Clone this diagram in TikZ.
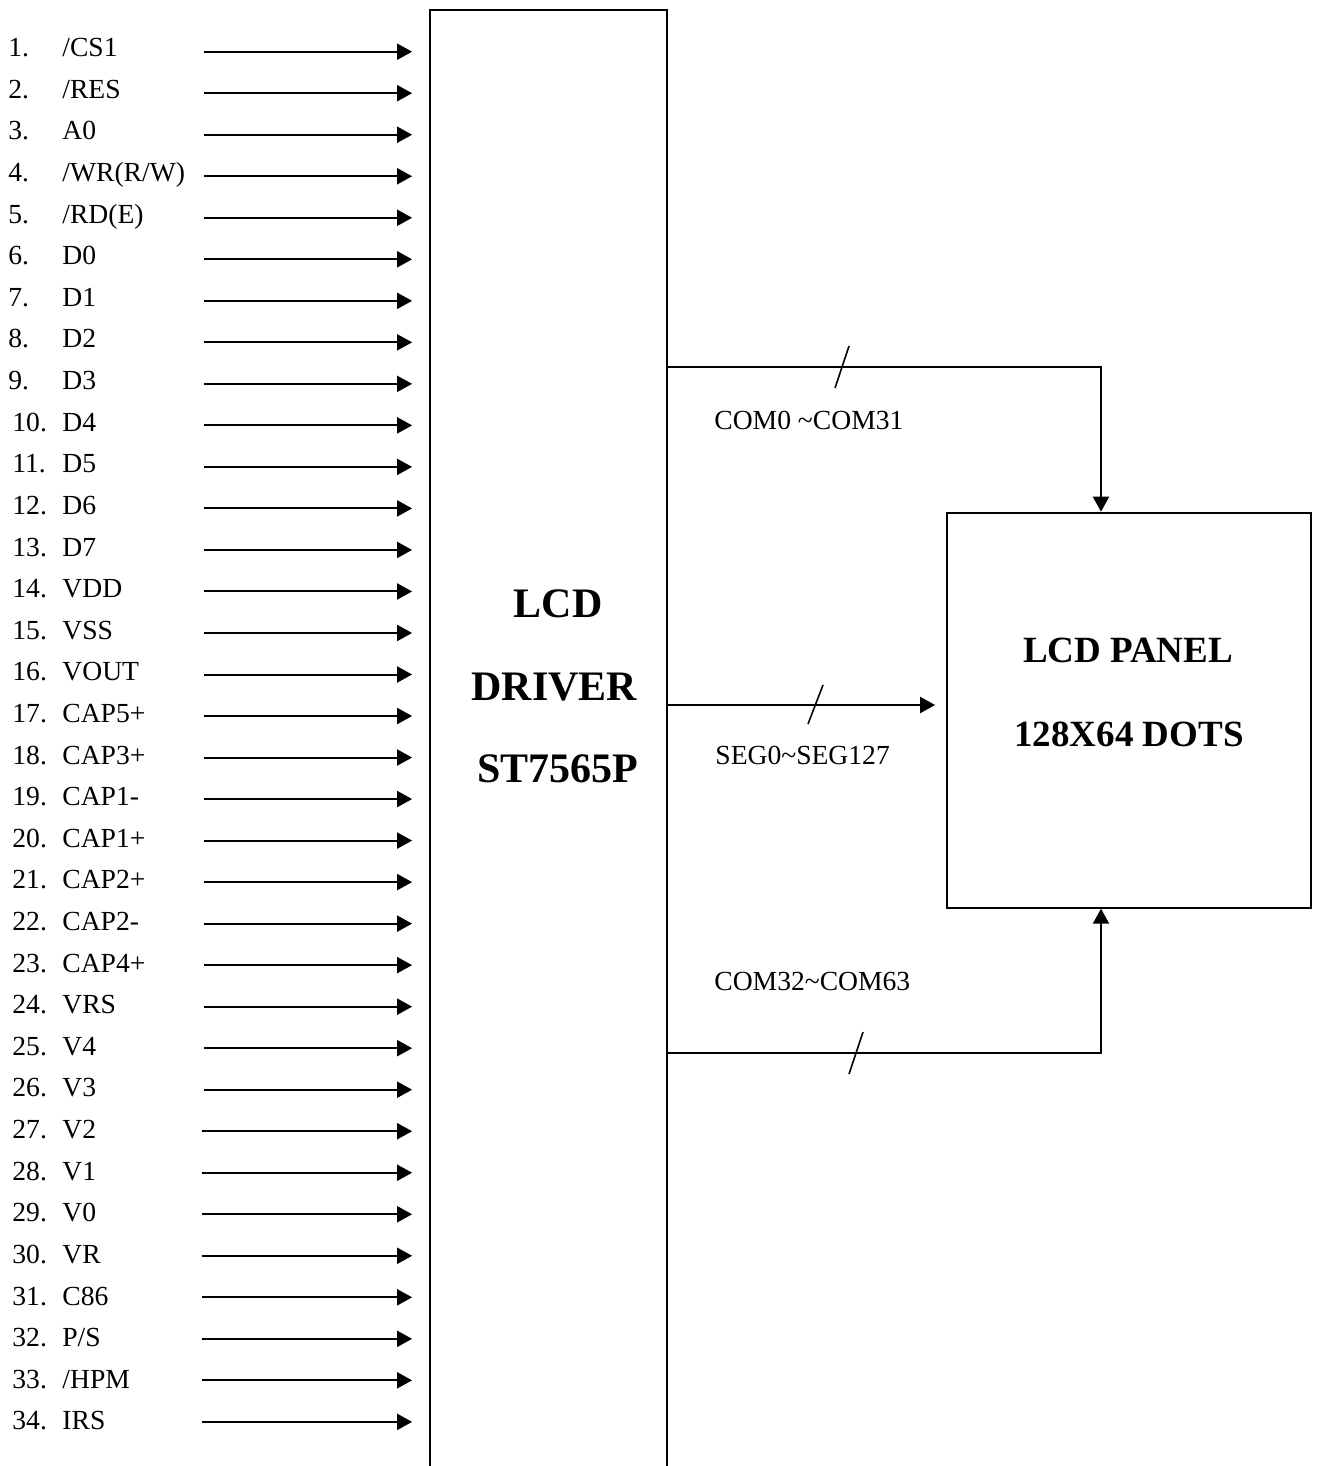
\documentclass[tikz,border=0pt]{standalone}
\usepackage{fontspec}
\setmainfont{Liberation Serif}
\usetikzlibrary{arrows.meta,calc}
\begin{document}
\begin{tikzpicture}[x=0.5pt,y=-0.5pt,
  ln/.style={line width=1pt},
  slash/.style={line width=0.8pt},
  arr/.style={line width=1pt,-{Triangle[length=7.5pt,width=8pt]}},
  txt/.style={anchor=base west,inner sep=0pt,font=\fontsize{13.8pt}{16pt}\selectfont},
  bigdrv/.style={anchor=base,inner sep=0pt,font=\fontsize{21pt}{24pt}\selectfont\bfseries},
  bigpan/.style={anchor=base,inner sep=0pt,font=\fontsize{18.5pt}{22pt}\selectfont\bfseries}]
\useasboundingbox (0,0) rectangle (1320,1466);
\begin{scope}
\clip (0,0) rectangle (1320,1466);
\node[draw,ln,minimum width=118.5pt,minimum height=750pt,inner sep=0pt,anchor=north] (drv) at (548,9) {};
\end{scope}
\node[draw,ln,minimum width=182.15pt,minimum height=197.5pt,inner sep=0pt] (pan) at (1128.85,710.2) {};

\node[bigdrv] (t1) at (558,617) {LCD};
\node[bigdrv] (t2) at (554.5,700) {DRIVER};
\node[bigdrv] (t3) at (558,782) {ST7565P};
\node[bigpan] (t4) at (1128,662.7) {LCD PANEL};
\node[bigpan] (t5) at (1129,746) {128X64 DOTS};

\foreach \nm [count=\i] in {{/CS1},{/RES},{A0},{/WR(R/W)},{/RD(E)},{D0},{D1},{D2},{D3},{D4},{D5},{D6},{D7},{VDD},{VSS},{VOUT},{CAP5+},{CAP3+},{CAP1-},{CAP1+},{CAP2+},{CAP2-},{CAP4+},{VRS},{V4},{V3},{V2},{V1},{V0},{VR},{C86},{P/S},{/HPM},{IRS}} {
  \pgfmathsetmacro\ya{51.7+(\i-1)*41.52}
  \pgfmathsetmacro\yb{56.7+(\i-1)*41.61}
  \pgfmathsetmacro\xs{\i<27 ? 204 : 201.5}
  \pgfmathsetmacro\xn{\i<10 ? 8 : 12}
  \node[txt] (n\i) at (\xn,\yb) {\i.};
  \node[txt] (p\i) at (62,\yb) {\nm};
  \coordinate (s\i) at (\xs,\ya);
  \draw[arr,shorten >=8.2pt] (s\i) -- (s\i -| drv.west);
}

\draw[arr] (drv.east |- 0,366.7) -| (1101,0 |- pan.north);
\draw[arr,shorten >=5.3pt] (drv.east |- 0,705) -- (pan.west |- 0,705);
\draw[arr] (drv.east |- 0,1053.3) -| (1101,0 |- pan.south);

\draw[slash] (835,388) -- (849,346);
\draw[slash] (808,724) -- (823,685);
\draw[slash] (849,1074) -- (863,1032);

\node[txt] (l1) at (714,429) {COM0 \textasciitilde COM31};
\node[txt] (l2) at (715,764) {SEG0\textasciitilde SEG127};
\node[txt] (l3) at (714,990.7) {COM32\textasciitilde COM63};
\end{tikzpicture}
\end{document}
